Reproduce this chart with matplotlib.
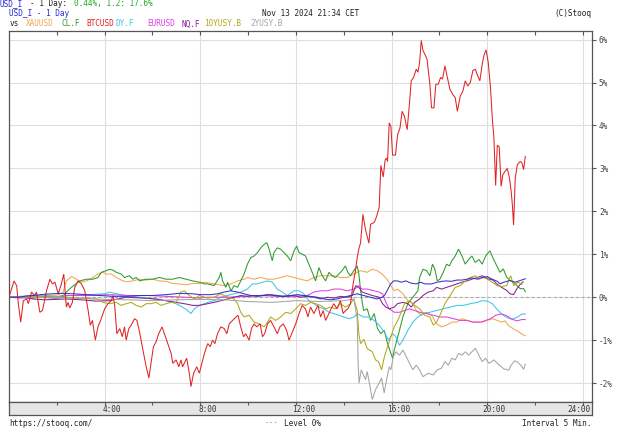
import matplotlib
matplotlib.use("Agg")
import matplotlib.pyplot as plt

# ---------------- data (hours CET, % change) ----------------
btc_t = [0.0, 0.21, 0.32, 0.39, 0.49, 0.6, 0.74, 0.81, 0.94, 1.08, 1.15, 1.29, 1.4, 1.57, 1.71, 1.82, 1.92, 2.06, 2.19, 2.29,
         2.4, 2.47, 2.54, 2.65, 2.75, 2.89, 3.03, 3.17, 3.31, 3.4, 3.49, 3.61, 3.72, 3.83, 4.0, 4.14, 4.28, 4.35, 4.42, 4.51,
         4.63, 4.74, 4.83, 4.9, 5.01, 5.11, 5.25, 5.35, 5.46, 5.6, 5.74, 5.85, 5.94, 6.04, 6.15, 6.26, 6.4, 6.5, 6.64, 6.78,
         6.85, 6.99, 7.1, 7.19, 7.26, 7.33, 7.43, 7.54, 7.61, 7.72, 7.85, 7.96, 8.17, 8.31, 8.42, 8.51, 8.61, 8.72, 8.86, 9.0,
         9.11, 9.21, 9.35, 9.49, 9.58, 9.69, 9.81, 9.9, 10.04, 10.14, 10.25, 10.36, 10.5, 10.6, 10.69, 10.81, 10.94, 11.08, 11.22, 11.33,
         11.47, 11.61, 11.71, 11.85, 11.99, 12.13, 12.26, 12.4, 12.5, 12.61, 12.75, 12.92, 13.03, 13.14, 13.24, 13.38, 13.47, 13.58, 13.72, 13.86,
         13.97, 14.07, 14.17, 14.28, 14.39, 14.49, 14.56, 14.64, 14.7, 14.8, 14.91, 15.05, 15.12, 15.27, 15.36, 15.48, 15.55, 15.65, 15.73, 15.79,
         15.83, 15.9, 15.97, 16.04, 16.16, 16.25, 16.35, 16.44, 16.54, 16.65, 16.75, 16.82, 16.92, 17.03, 17.1, 17.17, 17.24, 17.31, 17.48, 17.6,
         17.67, 17.77, 17.85, 17.95, 18.05, 18.13, 18.23, 18.33, 18.44, 18.56, 18.66, 18.75, 18.87, 18.98, 19.08, 19.18, 19.29, 19.4, 19.5, 19.57,
         19.69, 19.79, 19.86, 19.95, 20.04, 20.14, 20.21, 20.28, 20.35, 20.42, 20.5, 20.58, 20.65, 20.74, 20.84, 20.93, 21.0, 21.05, 21.1, 21.17,
         21.26, 21.38, 21.45, 21.52, 21.59]
btc_v = [0.0, 0.38, 0.27, -0.15, -0.58, -0.08, -0.04, -0.15, 0.12, 0.04, 0.12, -0.35, -0.31, 0.15, 0.42, 0.31, 0.35, 0.08, 0.31, 0.54,
         -0.23, -0.12, -0.25, -0.12, 0.23, 0.38, 0.31, 0.15, -0.31, -0.65, -0.54, -1.0, -0.69, -0.54, -0.27, -0.15, -0.08, 0.04, -0.19, -0.85,
         -0.73, -0.92, -0.69, -1.0, -0.73, -0.65, -0.5, -0.54, -0.81, -1.23, -1.62, -1.88, -1.54, -1.15, -1.04, -0.85, -0.69, -0.85, -1.08, -1.31,
         -1.54, -1.46, -1.62, -1.46, -1.62, -1.54, -1.42, -1.77, -2.08, -1.77, -1.62, -1.77, -1.31, -1.08, -1.15, -1.0, -1.08, -0.85, -0.69, -0.73,
         -0.85, -0.62, -0.54, -0.46, -0.42, -0.69, -0.92, -0.85, -1.0, -0.73, -0.62, -0.69, -0.62, -0.92, -0.85, -0.62, -0.54, -0.69, -0.85, -0.69,
         -0.62, -0.77, -1.0, -0.81, -0.62, -0.38, -0.19, -0.27, -0.46, -0.23, -0.38, -0.19, -0.46, -0.31, -0.54, -0.38, -0.27, -0.15, -0.27, -0.08,
         -0.38, -0.31, -0.27, -0.15, 0.31, 0.62, 0.92, 1.15, 1.26, 1.93, 1.57, 1.26, 1.7, 1.74, 1.86, 2.09, 3.07, 2.8, 3.2, 3.24,
         3.16, 4.06, 3.98, 3.31, 3.31, 3.78, 3.94, 4.33, 4.21, 3.9, 4.53, 5.04, 5.12, 5.31, 5.24, 5.46, 5.98, 5.75, 5.55, 4.96,
         4.41, 4.41, 4.96, 4.96, 5.12, 5.08, 5.39, 5.12, 4.84, 4.72, 4.65, 4.33, 4.68, 4.8, 5.04, 4.92, 5.0, 5.28, 5.31, 5.2,
         5.04, 5.43, 5.63, 5.76, 5.47, 4.84, 4.17, 3.7, 2.6, 3.54, 3.5, 2.58, 2.85, 2.93, 3.0, 2.77, 2.46, 2.15, 1.68, 2.77,
         3.09, 3.16, 3.13, 2.97, 3.28]

clf_t = [0.0, 0.5, 1.0, 1.5, 2.0, 2.3, 2.4, 2.61, 2.96, 3.24, 3.51, 3.72, 3.86, 4.07, 4.21, 4.35, 4.49, 4.69, 4.83, 5.04,
         5.18, 5.32, 5.46, 5.74, 6.01, 6.29, 6.57, 6.85, 7.12, 7.4, 7.68, 7.96, 8.17, 8.31, 8.58, 8.79, 8.86, 8.93, 9.07, 9.14,
         9.28, 9.42, 9.56, 9.69, 9.83, 9.97, 10.11, 10.25, 10.39, 10.53, 10.67, 10.78, 10.86, 11.01, 11.08, 11.22, 11.36, 11.5, 11.64, 11.78,
         11.92, 12.03, 12.13, 12.26, 12.4, 12.54, 12.68, 12.82, 12.96, 13.1, 13.24, 13.38, 13.51, 13.65, 13.79, 13.93, 14.07, 14.17, 14.28, 14.42,
         14.56, 14.63, 14.69, 14.76, 14.83, 14.98, 15.12, 15.27, 15.41, 15.55, 15.69, 15.83, 15.97, 16.04, 16.11, 16.18, 16.33, 16.47, 16.68, 16.89,
         17.1, 17.17, 17.31, 17.46, 17.6, 17.71, 17.81, 17.91, 18.02, 18.16, 18.3, 18.42, 18.52, 18.66, 18.8, 18.94, 19.08, 19.22, 19.36, 19.5,
         19.65, 19.79, 19.93, 20.11, 20.25, 20.39, 20.53, 20.67, 20.81, 20.95, 21.09, 21.24, 21.38, 21.52, 21.59]
clf_v = [0.0, 0.02, -0.02, 0.03, 0.0, 0.05, 0.12, 0.23, 0.38, 0.42, 0.42, 0.46, 0.58, 0.62, 0.65, 0.63, 0.58, 0.54, 0.46, 0.5,
         0.42, 0.46, 0.38, 0.42, 0.42, 0.46, 0.42, 0.42, 0.46, 0.42, 0.38, 0.35, 0.31, 0.31, 0.27, 0.46, 0.58, 0.38, 0.23, 0.35,
         0.15, 0.27, 0.23, 0.38, 0.54, 0.77, 0.92, 0.96, 1.04, 1.15, 1.23, 1.27, 1.15, 0.85, 1.04, 1.15, 1.12, 1.04, 0.96, 0.85,
         1.08, 1.19, 1.04, 1.0, 0.96, 0.77, 0.58, 0.38, 0.69, 0.5, 0.38, 0.58, 0.5, 0.46, 0.54, 0.62, 0.73, 0.58, 0.5, 0.62,
         0.73, 0.54, 0.23, -0.08, -0.31, -0.27, -0.54, -0.38, -0.73, -0.85, -0.77, -1.08, -1.31, -1.42, -1.23, -1.08, -0.77, -0.46, -0.15, 0.0,
         0.15, 0.46, 0.65, 0.62, 0.5, 0.77, 0.65, 0.38, 0.42, 0.58, 0.77, 0.73, 0.85, 0.96, 1.12, 0.96, 0.77, 0.88, 0.96, 0.81,
         0.88, 0.77, 0.96, 1.08, 0.9, 0.74, 0.58, 0.66, 0.47, 0.39, 0.35, 0.27, 0.2, 0.2, 0.13]

xau_t = [0.0, 0.5, 1.0, 1.5, 2.0, 2.25, 2.4, 2.61, 2.82, 3.03, 3.24, 3.51, 3.72, 3.93, 4.07, 4.28, 4.49, 4.69, 4.9, 5.18,
         5.46, 5.74, 6.01, 6.29, 6.57, 6.85, 7.12, 7.4, 7.68, 7.96, 8.17, 8.58, 9.0, 9.28, 9.56, 9.83, 9.97, 10.25, 10.53, 10.8,
         11.08, 11.36, 11.64, 11.92, 12.19, 12.47, 12.75, 13.03, 13.31, 13.58, 13.86, 14.14, 14.42, 14.69, 14.97, 15.18, 15.39, 15.6, 15.81, 15.97,
         16.11, 16.25, 16.47, 16.68, 16.89, 17.03, 17.24, 17.46, 17.67, 17.88, 18.09, 18.3, 18.52, 18.73, 18.94, 19.15, 19.36, 19.58, 19.79, 20.0,
         20.21, 20.42, 20.6, 20.75, 20.88, 21.1, 21.3, 21.45, 21.59]
xau_v = [0.0, 0.02, 0.05, 0.03, 0.05, 0.1, 0.38, 0.48, 0.42, 0.35, 0.38, 0.46, 0.54, 0.58, 0.54, 0.54, 0.46, 0.4, 0.36, 0.38,
         0.42, 0.4, 0.42, 0.38, 0.37, 0.32, 0.31, 0.29, 0.32, 0.32, 0.35, 0.31, 0.27, 0.31, 0.38, 0.42, 0.46, 0.42, 0.46, 0.42,
         0.42, 0.46, 0.5, 0.46, 0.42, 0.38, 0.46, 0.5, 0.5, 0.5, 0.46, 0.46, 0.54, 0.62, 0.58, 0.65, 0.62, 0.54, 0.42, 0.27,
         0.15, 0.19, 0.08, -0.08, -0.15, -0.31, -0.42, -0.35, -0.42, -0.62, -0.69, -0.65, -0.58, -0.58, -0.5, -0.54, -0.58, -0.58, -0.58, -0.54,
         -0.5, -0.54, -0.58, -0.55, -0.66, -0.74, -0.8, -0.86, -0.9]

dy_t = [0.0, 1.0, 2.0, 3.0, 4.0, 4.21, 4.49, 4.9, 5.46, 6.01, 6.57, 6.99, 7.26, 7.47, 7.61, 7.75, 7.96, 8.17, 8.31, 8.58,
        8.86, 9.14, 9.42, 9.69, 9.97, 10.18, 10.39, 10.6, 10.81, 11.01, 11.22, 11.43, 11.64, 11.92, 12.13, 12.33, 12.54, 12.75, 12.96, 13.17,
        13.38, 13.58, 13.79, 14.0, 14.21, 14.42, 14.56, 14.69, 14.83, 15.05, 15.27, 15.48, 15.69, 15.87, 16.04, 16.18, 16.33, 16.47, 16.68, 16.89,
        17.1, 17.31, 17.6, 17.88, 18.16, 18.45, 18.73, 19.01, 19.29, 19.58, 19.79, 20.0, 20.21, 20.39, 20.6, 20.81, 21.02, 21.24, 21.45, 21.59]
dy_v = [0.0, 0.03, 0.02, 0.05, 0.08, 0.12, 0.08, 0.04, 0.0, -0.04, -0.08, -0.15, -0.23, -0.31, -0.38, -0.27, -0.19, -0.15, -0.12, -0.08,
        0.0, 0.04, 0.08, 0.12, 0.19, 0.31, 0.31, 0.35, 0.38, 0.35, 0.19, 0.12, 0.04, 0.15, 0.15, 0.08, -0.08, -0.15, -0.23, -0.27,
        -0.35, -0.38, -0.42, -0.46, -0.5, -0.46, -0.38, -0.42, -0.46, -0.46, -0.54, -0.65, -0.81, -1.0, -0.85, -0.92, -1.12, -1.0, -0.77, -0.58,
        -0.46, -0.38, -0.35, -0.31, -0.27, -0.23, -0.19, -0.19, -0.15, -0.12, -0.08, -0.09, -0.15, -0.27, -0.39, -0.47, -0.51, -0.47, -0.39, -0.39]

eur_t = [0.0, 0.5, 1.0, 1.5, 2.0, 2.4, 3.24, 4.21, 5.0, 5.88, 6.57, 7.4, 7.96, 8.3, 9.14, 9.83, 10.53, 11.22, 11.92, 12.47,
         12.75, 13.03, 13.31, 13.58, 13.86, 14.14, 14.42, 14.56, 14.63, 14.77, 14.98, 15.27, 15.48, 15.62, 15.76, 15.9, 16.11, 16.33, 16.54, 16.75,
         16.96, 17.17, 17.46, 17.74, 18.02, 18.3, 18.59, 18.87, 19.15, 19.43, 19.72, 19.93, 20.14, 20.35, 20.6, 20.81, 21.02, 21.24, 21.45, 21.59]
eur_v = [0.0, -0.02, 0.02, 0.0, -0.03, 0.04, 0.04, 0.06, 0.04, 0.04, 0.02, 0.0, -0.02, 0.0, 0.0, 0.02, 0.04, 0.02, 0.02, 0.04,
         0.12, 0.15, 0.15, 0.19, 0.19, 0.15, 0.19, 0.23, 0.27, 0.19, 0.19, 0.15, 0.12, 0.08, -0.12, -0.27, -0.35, -0.35, -0.31, -0.27,
         -0.31, -0.35, -0.38, -0.42, -0.46, -0.46, -0.5, -0.54, -0.54, -0.58, -0.58, -0.54, -0.5, -0.42, -0.39, -0.43, -0.51, -0.55, -0.52, -0.52]

nq_t = [0.0, 0.5, 1.0, 1.5, 2.0, 2.4, 3.0, 3.65, 4.21, 4.9, 5.6, 6.15, 6.57, 6.99, 7.33, 7.68, 7.96, 8.31, 8.58, 8.86,
        9.14, 9.42, 9.69, 9.97, 10.25, 10.53, 10.81, 11.08, 11.36, 11.64, 11.92, 12.19, 12.47, 12.75, 13.03, 13.31, 13.58, 13.86, 14.14, 14.35,
        14.5, 14.63, 14.77, 14.98, 15.19, 15.48, 15.62, 15.76, 15.9, 16.11, 16.25, 16.47, 16.68, 16.82, 16.96, 17.17, 17.31, 17.53, 17.74, 17.88,
        18.09, 18.3, 18.52, 18.73, 18.94, 19.15, 19.36, 19.58, 19.79, 19.93, 20.07, 20.25, 20.39, 20.6, 20.81, 20.95, 21.1, 21.24, 21.38, 21.5]
nq_v = [0.0, 0.0, -0.04, -0.06, -0.05, -0.04, -0.06, -0.09, -0.08, 0.0, -0.02, -0.04, -0.08, -0.12, -0.15, -0.19, -0.19, -0.15, -0.12, -0.08,
        -0.04, 0.0, 0.04, 0.02, 0.04, 0.04, 0.06, 0.04, 0.02, 0.03, 0.04, 0.0, 0.02, 0.0, -0.04, 0.0, -0.02, 0.02, 0.0, 0.04,
        0.27, 0.23, 0.12, 0.08, 0.04, 0.0, -0.15, -0.23, -0.27, -0.23, -0.15, -0.12, -0.15, -0.23, -0.12, -0.04, 0.04, 0.12, 0.15, 0.23,
        0.19, 0.23, 0.27, 0.31, 0.35, 0.38, 0.42, 0.46, 0.5, 0.46, 0.42, 0.4, 0.31, 0.23, 0.16, 0.08, 0.06, 0.2, 0.3, 0.36]

usd_t = [0.0, 0.4, 0.75, 1.01, 1.5, 2.13, 2.7, 3.24, 3.8, 4.35, 4.9, 5.46, 6.0, 6.57, 7.12, 7.68, 8.0, 8.42, 8.72, 9.0,
         9.28, 9.56, 9.83, 10.11, 10.39, 10.67, 10.94, 11.22, 11.5, 11.78, 12.06, 12.33, 12.61, 12.89, 13.17, 13.44, 13.72, 14.0, 14.28, 14.56,
         14.83, 15.11, 15.39, 15.6, 15.7, 15.81, 15.95, 16.08, 16.25, 16.4, 16.6, 16.8, 17.03, 17.2, 17.4, 17.67, 17.9, 18.1, 18.3, 18.5,
         18.73, 18.94, 19.15, 19.36, 19.58, 19.79, 20.0, 20.21, 20.42, 20.53, 20.7, 20.95, 21.17, 21.38, 21.59]
usd_v = [0.0, 0.0, 0.03, 0.04, 0.07, 0.09, 0.08, 0.06, 0.04, 0.02, 0.02, 0.04, 0.04, 0.06, 0.09, 0.08, 0.06, 0.06, 0.08, 0.12,
         0.15, 0.12, 0.08, 0.04, 0.02, 0.04, 0.06, 0.04, 0.02, 0.04, 0.06, 0.04, 0.02, 0.0, -0.04, -0.06, -0.04, 0.0, 0.04, 0.08,
         0.04, 0.0, -0.04, 0.0, 0.04, 0.15, 0.3, 0.38, 0.38, 0.35, 0.38, 0.33, 0.31, 0.35, 0.31, 0.31, 0.35, 0.37, 0.38, 0.37,
         0.4, 0.4, 0.42, 0.45, 0.42, 0.46, 0.48, 0.42, 0.37, 0.31, 0.35, 0.39, 0.35, 0.39, 0.43]

y10_t = [0.0, 1.0, 2.0, 3.0, 3.7, 3.93, 4.21, 4.49, 4.69, 4.9, 5.11, 5.32, 5.53, 5.74, 5.94, 6.15, 6.36, 6.57, 6.78, 6.99,
         7.19, 7.33, 7.54, 7.75, 7.96, 8.3, 8.58, 8.86, 9.14, 9.42, 9.56, 9.69, 9.83, 10.04, 10.25, 10.46, 10.67, 10.81, 10.94, 11.15,
         11.36, 11.57, 11.78, 11.99, 12.19, 12.4, 12.61, 12.82, 13.03, 13.24, 13.44, 13.65, 13.86, 14.07, 14.28, 14.42, 14.56, 14.63, 14.7, 14.84,
         14.98, 15.19, 15.33, 15.45, 15.58, 15.7, 15.83, 15.97, 16.11, 16.26, 16.4, 16.54, 16.75, 16.96, 17.17, 17.38, 17.6, 17.74, 17.88, 18.02,
         18.23, 18.45, 18.66, 18.87, 19.08, 19.29, 19.5, 19.65, 19.86, 20.0, 20.21, 20.42, 20.6, 20.81, 20.98, 21.1, 21.3, 21.45]
y10_v = [0.0, 0.02, 0.0, -0.02, -0.04, -0.12, -0.15, -0.12, -0.19, -0.15, -0.12, -0.19, -0.23, -0.15, -0.15, -0.12, -0.19, -0.15, -0.12, -0.12,
         0.12, 0.15, 0.04, -0.04, 0.04, -0.02, 0.0, 0.08, 0.0, -0.04, -0.15, -0.35, -0.46, -0.42, -0.58, -0.62, -0.69, -0.58, -0.46, -0.54,
         -0.46, -0.35, -0.38, -0.27, -0.15, -0.19, -0.12, -0.15, -0.19, -0.27, -0.23, -0.27, -0.15, -0.23, -0.15, -0.04, -0.31, -0.85, -1.08, -0.98,
         -1.2, -1.27, -1.46, -1.5, -1.69, -1.38, -1.15, -0.92, -0.69, -0.54, -0.35, -0.15, -0.08, -0.19, -0.27, -0.42, -0.46, -0.65, -0.58, -0.42,
         -0.15, 0.04, 0.23, 0.27, 0.38, 0.46, 0.5, 0.42, 0.46, 0.42, 0.35, 0.27, 0.25, 0.27, 0.5, 0.27, 0.35, 0.3]

y2_t = [0.0, 1.0, 2.0, 3.0, 4.0, 5.0, 6.0, 7.0, 8.0, 9.0, 10.0, 11.0, 12.0, 13.0, 14.0, 14.42, 14.56, 14.6, 14.64, 14.73,
        14.91, 14.98, 15.08, 15.19, 15.33, 15.48, 15.58, 15.69, 15.79, 15.9, 15.97, 16.07, 16.18, 16.33, 16.47, 16.61, 16.75, 16.89, 17.03, 17.17,
        17.31, 17.53, 17.74, 17.91, 18.09, 18.23, 18.37, 18.52, 18.66, 18.8, 18.94, 19.08, 19.22, 19.36, 19.5, 19.65, 19.79, 19.93, 20.07, 20.28,
        20.5, 20.7, 20.9, 20.98, 21.14, 21.28, 21.43, 21.52, 21.59]
y2_v = [0.0, 0.0, -0.02, -0.03, -0.05, -0.06, -0.08, -0.06, -0.05, -0.06, -0.1, -0.12, -0.08, -0.1, -0.08, -0.04, -0.5, -1.54, -2.0, -1.69,
        -1.92, -1.73, -2.03, -2.38, -2.15, -2.0, -1.88, -2.23, -1.92, -1.62, -1.69, -1.38, -1.27, -1.35, -1.23, -1.38, -1.54, -1.69, -1.58, -1.69,
        -1.85, -1.77, -1.81, -1.69, -1.65, -1.5, -1.58, -1.42, -1.46, -1.31, -1.35, -1.27, -1.35, -1.27, -1.19, -1.35, -1.5, -1.42, -1.54, -1.46,
        -1.58, -1.67, -1.7, -1.6, -1.48, -1.52, -1.6, -1.68, -1.56]

y_ticks = [-2, -1, 0, 1, 2, 3, 4, 5, 6]
x_major = [4, 8, 12, 16, 20, 24]
x_minor = [2, 6, 10, 14, 18, 22]
x_labels = ["4:00", "8:00", "12:00", "16:00", "20:00", "24:00"]

# ---------------- figure ----------------
W, H = 625, 430
fig = plt.figure(figsize=(W / 100, H / 100), dpi=100)
fig.patch.set_facecolor("white")
MONO = "DejaVu Sans Mono"
FS = 5.6

def fx(x):
    return x / W

def fy(y):
    return 1 - y / H

XMIN, XMAX = 0.0, 24.38
YMIN, YMAX = -2.44, 6.2

ax = fig.add_axes([fx(9), fy(402), (592 - 9) / W, (402 - 31) / H])
ax.set_xlim(XMIN, XMAX)
ax.set_ylim(YMIN, YMAX)
for s in ax.spines.values():
    s.set_color("#555555")
    s.set_linewidth(0.9)

ax.set_xticks(x_major)
ax.set_xticks(x_minor, minor=True)
ax.tick_params(axis="x", which="both", top=True, bottom=False, direction="in",
               length=3, width=0.8, color="#555555", labelbottom=False, labeltop=False)
ax.yaxis.tick_right()
ax.set_yticks(y_ticks)
ax.set_yticklabels([f"{v}%" for v in y_ticks], fontsize=FS, family=MONO, color="#444444")
ax.tick_params(axis="y", which="both", direction="out", length=3, width=0.8,
               color="#555555", pad=2, left=False)
ax.grid(True, which="major", color="#dedede", linewidth=0.8, zorder=0)
ax.set_axisbelow(True)

ax.axhline(0, color="#a8a8a8", linestyle=(0, (2.5, 2.5)), linewidth=0.8, zorder=1)

LW = 0.75
series = [
    (xau_t, xau_v, "#f2a650"),
    (clf_t, clf_v, "#2e9a2e"),
    (dy_t, dy_v, "#3ec4ec"),
    (eur_t, eur_v, "#e040e0"),
    (nq_t, nq_v, "#8a2090"),
    (y10_t, y10_v, "#b4a818"),
    (y2_t, y2_v, "#a4a4a4"),
    (btc_t, btc_v, "#e02424"),
    (usd_t, usd_v, "#3434c4"),
]
for i, (t, v, c) in enumerate(series):
    ax.plot(t, v, color=c, linewidth=LW, zorder=2 + i, solid_joinstyle="miter")

# bottom time strip
sax = fig.add_axes([fx(9), fy(415), (592 - 9) / W, (415 - 402) / H])
sax.set_facecolor("#e6e6e6")
sax.set_xlim(XMIN, XMAX)
sax.set_ylim(0, 1)
for s in sax.spines.values():
    s.set_color("#555555")
    s.set_linewidth(0.9)
sax.set_yticks([])
sax.set_xticks(x_major)
sax.set_xticks(x_minor, minor=True)
sax.tick_params(axis="x", which="both", top=True, bottom=False, direction="in",
                length=2.5, width=0.8, color="#555555", labelbottom=False)
for xv, lab in zip(x_major, x_labels):
    if xv == x_major[-1]:
        sax.text(XMAX - 0.05, 0.45, lab, ha="right", va="center", fontsize=FS, family=MONO, color="#333333")
    else:
        sax.text(xv + 0.3, 0.45, lab, ha="center", va="center", fontsize=FS, family=MONO, color="#333333")

# header texts (first line is cut at the top edge in the reference)
fig.text(fx(0), fy(3.5), "USD_I", color="#2a2ad0", fontsize=FS, family=MONO, va="center", ha="left")
fig.text(fx(30), fy(3.5), "- 1 Day:", color="#222222", fontsize=FS, family=MONO, va="center", ha="left")
fig.text(fx(74), fy(3.5), "0.44%, 1.2: 17.6%", color="#22aa22", fontsize=FS, family=MONO, va="center", ha="left")

fig.text(fx(9), fy(14), "USD_I - 1 Day", color="#2a2ad0", fontsize=FS, family=MONO, va="center", ha="left")
fig.text(fx(262), fy(14), "Nov 13 2024 21:34 CET", color="#222222", fontsize=FS, family=MONO, va="center", ha="left")
fig.text(fx(591), fy(14), "(C)Stooq", color="#222222", fontsize=FS, family=MONO, va="center", ha="right")

legend_items = [
    ("vs", "#222222", 9.3),
    ("XAUUSD", "#f2a650", 26),
    ("CL.F", "#2e9a2e", 61),
    ("BTCUSD", "#e02424", 86),
    ("DY.F", "#3ec4ec", 115),
    ("EURUSD", "#e040e0", 147.7),
    ("NQ.F", "#8a2090", 181.7),
    ("10YUSY.B", "#b4a818", 203.7),
    ("2YUSY.B", "#a4a4a4", 250),
]
for name, col, xpx in legend_items:
    fig.text(fx(xpx), fy(24), name, color=col, fontsize=FS, family=MONO, va="center", ha="left")

# footer
fig.text(fx(9), fy(423), "https://stooq.com/", color="#222222", fontsize=FS, family=MONO, va="center", ha="left")
fig.text(fx(265), fy(423), "---", color="#a0a0a0", fontsize=FS, family=MONO, va="center", ha="left")
fig.text(fx(284), fy(423), "Level 0%", color="#222222", fontsize=FS, family=MONO, va="center", ha="left")
fig.text(fx(591), fy(423), "Interval 5 Min.", color="#222222", fontsize=FS, family=MONO, va="center", ha="right")

fig.savefig("out.png", dpi=100, facecolor="white")
